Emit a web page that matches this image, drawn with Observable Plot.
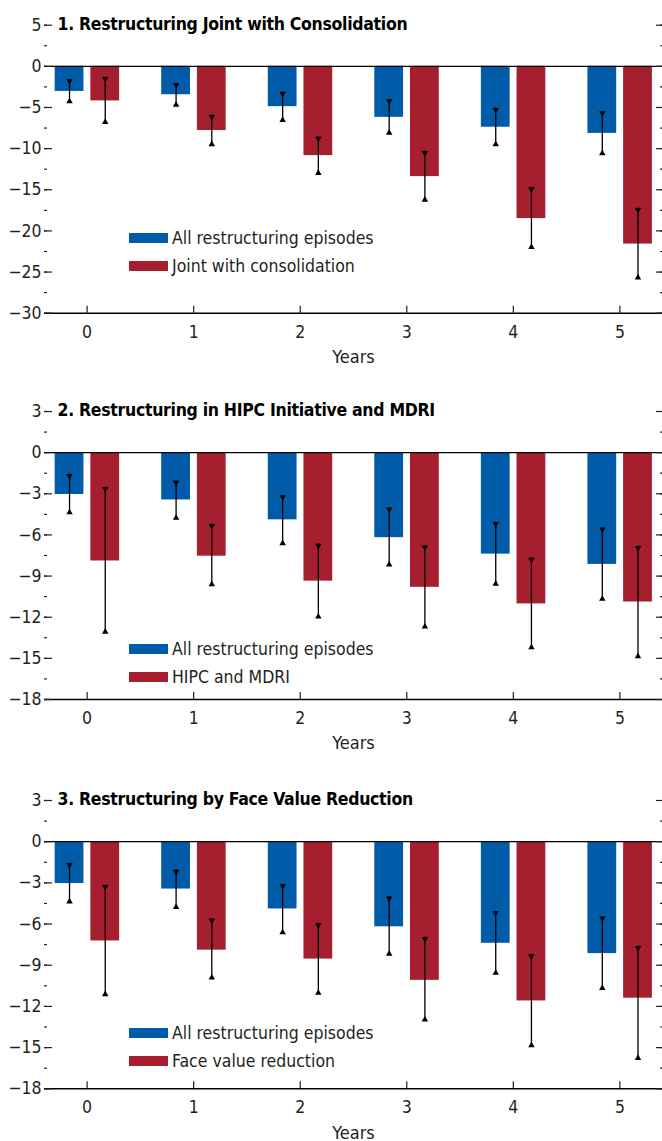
<!DOCTYPE html>
<html><head><meta charset="utf-8">
<script src="https://cdn.jsdelivr.net/npm/d3@7"></script>
<script src="https://cdn.jsdelivr.net/npm/@observablehq/plot@0.6"></script>
<style>
body{margin:0;background:#fff;}
#chart{position:relative;width:662px;font-family:"Liberation Sans Narrow","DejaVu Sans Condensed","DejaVu Sans",sans-serif;font-stretch:condensed;}
.panel{position:relative;}
.legend{position:absolute;left:129px;font-size:17.5px;color:#231f20;}
.row{display:flex;align-items:center;height:28px;white-space:nowrap;}
.sw{width:39px;height:10px;margin-right:4px;flex:none;}
svg{display:block;}
</style></head><body><div id="chart"></div>
<script>
const years = [0, 1, 2, 3, 4, 5];
const seriesAll = "All restructuring episodes";
const allValues = [-3.05, -3.45, -4.9, -6.2, -7.4, -8.15];
const allLow    = [-4.5, -4.9, -6.75, -8.3, -9.7, -10.8];
const allHigh   = [-1.55, -2.05, -3.1, -4.0, -5.05, -5.45];

const titles = ["1. Restructuring Joint with Consolidation", "2. Restructuring in HIPC Initiative and MDRI", "3. Restructuring by Face Value Reduction"];
const altNames = ["Joint with consolidation", "HIPC and MDRI", "Face value reduction"];

const consValues = [-4.2, -7.8, -10.85, -13.4, -18.5, -21.6];
const consLow    = [-7.0, -9.7, -13.2, -16.45, -22.2, -25.9];
const consHigh   = [-1.3, -5.9, -8.55, -10.3, -14.7, -17.2];

const hipcValues = [-7.9, -7.55, -9.37, -9.82, -11.03, -10.89];
const hipcLow    = [-13.2, -9.75, -12.1, -12.83, -14.34, -14.99];
const hipcHigh   = [-2.5, -5.2, -6.65, -6.77, -7.66, -6.8];

const faceValues = [-7.23, -7.9, -8.55, -10.1, -11.6, -11.4];
const faceLow    = [-11.25, -10.04, -11.15, -13.1, -14.97, -15.9];
const faceHigh   = [-3.15, -5.6, -5.95, -6.95, -8.2, -7.6];

const yDomains = [[-30, 5], [-18, 3], [-18, 3]];
const yMajorStep = [5, 3, 3];
const xLabel = "Years";

const BLUE = "#005CA9", RED = "#A51F2F", INK = "#231f20";
const FONT = '"Liberation Sans Narrow","DejaVu Sans Condensed","DejaVu Sans",sans-serif';

const layout = [
  {height: 387, marginTop: 24.7, marginBottom: 74.3, legendTop: 223.8},
  {height: 389, marginTop: 24, marginBottom: 77, legendTop: 248.3},
  {height: 365, marginTop: 24, marginBottom: 52.7, legendTop: 242.7}
];
const altSeries = [[consValues, consLow, consHigh], [hipcValues, hipcLow, hipcHigh], [faceValues, faceLow, faceHigh]];

const off = {all: {x1: -0.30, x2: -0.03, c: -0.165}, alt: {x1: 0.035, x2: 0.305, c: 0.17}};
const fmt = d => String(d).replace("-", "\u2212");

const chart = document.getElementById("chart");
titles.forEach((title, p) => {
  const [vals, lo, hi] = altSeries[p];
  const rows = years.flatMap((yr, i) => [
    {year: yr, s: "all", v: allValues[i], lo: allLow[i], hi: allHigh[i]},
    {year: yr, s: "alt", v: vals[i], lo: lo[i], hi: hi[i]}
  ]);
  const [ymin, ymax] = yDomains[p];
  const step = yMajorStep[p];
  const major = d3.range(ymin, ymax + 1e-9, step);
  const minor = d3.range(ymin, ymax + 1e-9, step / 2);
  const L = layout[p];
  const svg = Plot.plot({
    width: 662, height: L.height,
    marginLeft: 44, marginRight: 0, marginTop: L.marginTop, marginBottom: L.marginBottom,
    x: {domain: [-0.4, 5.4], label: null},
    y: {domain: [ymin, ymax], label: null},
    color: {domain: ["all", "alt"], range: [BLUE, RED]},
    style: {fontFamily: FONT, fontSize: "17.5px", color: INK, background: "white", overflow: "visible"},
    marks: [
      Plot.rect(rows, {x1: d => d.year + off[d.s].x1, x2: d => d.year + off[d.s].x2, y1: 0, y2: "v", fill: "s"}),
      Plot.ruleY([0], {stroke: "#000", strokeWidth: 1.3}),
      Plot.ruleY([ymin], {stroke: "#000", strokeWidth: 1.5}),
      Plot.ruleX(rows, {x: d => d.year + off[d.s].c, y1: "lo", y2: "hi", stroke: "#000", strokeWidth: 1.3}),
      Plot.dot(rows, {x: d => d.year + off[d.s].c, y: "hi", symbol: "triangle", rotate: 180, r: 2.4, fill: "#000", stroke: "none", dy: 1.87}),
      Plot.dot(rows, {x: d => d.year + off[d.s].c, y: "lo", symbol: "triangle", r: 2.4, fill: "#000", stroke: "none", dy: -1.87}),
      Plot.axisY({anchor: "left", ticks: major, tickSize: -8, tickPadding: 11, tickFormat: fmt, label: null, strokeWidth: 1.2}),
      Plot.axisY({anchor: "left", ticks: minor, tickSize: -3, fill: "none", label: null, strokeWidth: 1.2}),
      Plot.axisY({anchor: "right", ticks: major, tickSize: -7, fill: "none", label: null, strokeWidth: 1.2}),
      Plot.axisY({anchor: "right", ticks: minor, tickSize: -3, fill: "none", label: null, strokeWidth: 1.2}),
      Plot.axisX({ticks: years, tickSize: -7, tickPadding: 19, tickFormat: d => String(d), label: null, strokeWidth: 1.2}),
      Plot.text([xLabel], {text: d => d, frameAnchor: "bottom", dy: 44, lineAnchor: "middle", fontSize: 18, fill: INK}),
      Plot.text([title], {text: d => d, frameAnchor: "top-left", dx: 13, dy: -1, lineAnchor: "middle", textAnchor: "start", fontWeight: "bold", fontSize: 17.5, fill: "#000"})
    ]
  });
  d3.select(svg).selectAll("text").filter(function() { return this.textContent === title; }).attr("letter-spacing", "-0.3");
  const wrap = document.createElement("div");
  wrap.className = "panel";
  wrap.appendChild(svg);
  const leg = document.createElement("div");
  leg.className = "legend";
  leg.style.top = L.legendTop + "px";
  [[seriesAll, BLUE], [altNames[p], RED]].forEach(([name, col]) => {
    const r = document.createElement("div"); r.className = "row";
    const sw = document.createElement("span"); sw.className = "sw"; sw.style.background = col;
    const t = document.createElement("span"); t.textContent = name;
    r.appendChild(sw); r.appendChild(t); leg.appendChild(r);
  });
  wrap.appendChild(leg);
  chart.appendChild(wrap);
});
</script></body></html>
